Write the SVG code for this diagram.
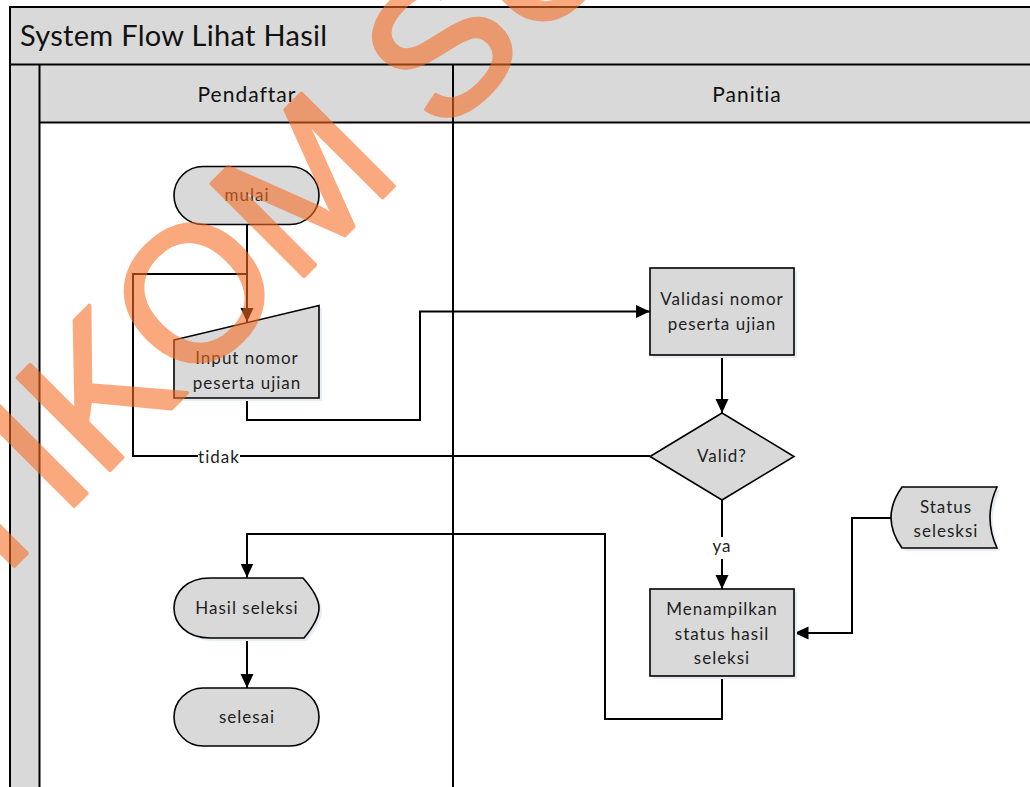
<svg xmlns="http://www.w3.org/2000/svg" width="1030" height="787" viewBox="0 0 1030 787">
  <defs>
    <marker id="arrow" markerUnits="userSpaceOnUse" markerWidth="14" markerHeight="14" refX="14" refY="7" orient="auto">
      <path d="M0,0.5 L14,7 L0,13.5 Z" fill="#000"/>
    </marker>
    <style>
      .band { fill: #D9D9D9; }
      .frame { fill: none; stroke: #000; stroke-width: 2; }
      .shape { fill: #D9D9D9; stroke: #000; stroke-width: 1.6; }
      .shadow { fill: #E8EDF5; }
      .conn { fill: none; stroke: #000; stroke-width: 2; }
      .t { font-family: Lato, "Open Sans", sans-serif; font-size: 17px; letter-spacing: 1px; fill: #1E1E1E; text-anchor: middle; }
      .title { font-family: Lato, "Open Sans", sans-serif; font-size: 29px; letter-spacing: 0.3px; fill: #111; }
      .lane { font-family: Lato, "Open Sans", sans-serif; font-size: 21px; letter-spacing: 1px; fill: #111; text-anchor: middle; }
      .lbl-bg { fill: #FFF; }
      .wm { font-family: "Liberation Sans", Arial, sans-serif; font-size: 190px; fill: #F76C24; stroke: #F76C24; stroke-width: 4; stroke-linejoin: round; }
    </style>
  </defs>

  <rect x="0" y="0" width="1030" height="787" fill="#FFF"/>

  <!-- swimlane pool -->
  <g id="pool">
    <rect class="band" x="10" y="7" width="1030" height="57.5"/>
    <rect class="band" x="39.5" y="64.5" width="1000" height="58"/>
    <rect class="band" x="10" y="64.5" width="29.5" height="740"/>
    <rect class="frame" x="10" y="7" width="1040" height="800"/>
    <path class="frame" d="M10,64.5 H1040 M39.5,122.5 H1040 M39.5,64.5 V800 M453,64.5 V800"/>
    <text class="title" x="20" y="46">System Flow Lihat Hasil</text>
    <text class="lane" x="247" y="102">Pendaftar</text>
    <text class="lane" x="747" y="102">Panitia</text>
  </g>

  <!-- connectors -->
  <g id="connectors">
    <path class="conn" d="M650,456 H133 V274 H247"/>
    <path class="conn" d="M247,225 V322" marker-end="url(#arrow)"/>
    <path class="conn" d="M247,398 V420 H420 V311.5 H650" marker-end="url(#arrow)"/>
    <path class="conn" d="M722,355 V413" marker-end="url(#arrow)"/>
    <path class="conn" d="M722,500 V589" marker-end="url(#arrow)"/>
    <path class="conn" d="M722,676 V719 H605 V534 H247 V577.5" marker-end="url(#arrow)"/>
    <path class="conn" d="M894,518 H852 V633 H794.5" marker-end="url(#arrow)"/>
    <path class="conn" d="M247,638 V688" marker-end="url(#arrow)"/>
    <rect class="lbl-bg" x="198" y="447" width="42" height="20"/>
    <text class="t" x="219" y="463">tidak</text>
    <rect class="lbl-bg" x="710" y="537" width="24" height="22"/>
    <text class="t" x="722" y="552">ya</text>
  </g>

  <!-- nodes -->
  <g id="mulai">
    <rect class="shape" x="174" y="166.5" width="145" height="58" rx="29" ry="29"/>
    <text class="t" x="247" y="201">mulai</text>
  </g>

  <g id="input-nomor">
    <path class="shadow" d="M177,343 L322,308 V401 H177 Z"/>
    <path class="shape" d="M174,340 L319,305.5 V398 H174 Z"/>
    <text class="t" x="247" y="364">Input nomor</text>
    <text class="t" x="247" y="389">peserta ujian</text>
  </g>

  <g id="validasi">
    <rect class="shadow" x="653" y="271" width="144" height="87"/>
    <rect class="shape" x="650" y="268" width="144" height="87"/>
    <text class="t" x="722" y="305">Validasi nomor</text>
    <text class="t" x="722" y="330">peserta ujian</text>
  </g>

  <g id="valid">
    <polygon class="shape" points="650,456.5 722,413 794,456.5 722,500"/>
    <text class="t" x="722" y="462">Valid?</text>
  </g>

  <g id="menampilkan">
    <rect class="shadow" x="653" y="592" width="144" height="87"/>
    <rect class="shape" x="650" y="589" width="144" height="87"/>
    <text class="t" x="722" y="615">Menampilkan</text>
    <text class="t" x="722" y="640">status hasil</text>
    <text class="t" x="722" y="664">seleksi</text>
  </g>

  <g id="status-seleksi">
    <path class="shadow" d="M905,490 H1000 Q986,520 1000,551 H905 Q883,520 905,490 Z"/>
    <path class="shape" d="M902,487 H997 Q983,517.5 997,548 H902 Q880,517.5 902,487 Z"/>
    <text class="t" x="946" y="513">Status</text>
    <text class="t" x="946" y="537">selesksi</text>
  </g>

  <g id="hasil-seleksi">
    <path class="shadow" d="M213,581 H306 Q322,599 322,611 Q322,623 307,641 H213 C189,641 177,626 177,611 C177,596 189,581 213,581 Z"/>
    <path class="shape" d="M210,578 H303 Q319,596 319,608 Q319,620 304,638 H210 C186,638 174,623 174,608 C174,593 186,578 210,578 Z"/>
    <text class="t" x="247" y="614">Hasil seleksi</text>
  </g>

  <g id="selesai">
    <rect class="shape" x="174" y="688" width="145" height="58" rx="29" ry="29"/>
    <text class="t" x="247" y="723">selesai</text>
  </g>

  <!-- watermark -->
  <g opacity="0.59">
    <text class="wm" transform="translate(-110,690) rotate(-45)">STIKOM SURABAYA</text>
  </g>
</svg>
